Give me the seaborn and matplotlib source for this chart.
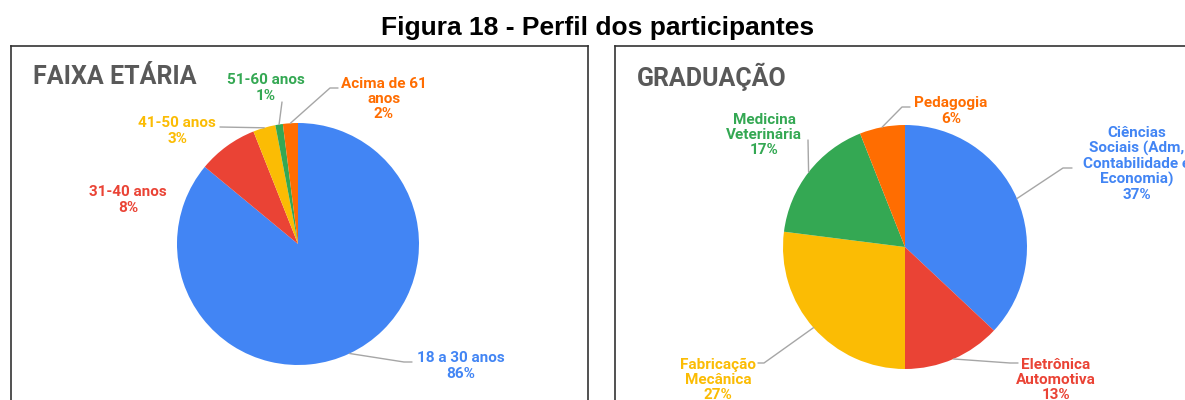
import numpy as np
import seaborn as sns
import matplotlib.pyplot as plt

# Perfil dos participantes
faixa_labels = ['18 a 30 anos', '31-40 anos', '41-50 anos', '51-60 anos', 'Acima de 61\nanos']
faixa_values = [86, 8, 3, 1, 2]

grad_labels = ['Ciências\nSociais (Adm,\nContabilidade e\nEconomia)', 'Eletrônica\nAutomotiva',
               'Fabricação\nMecânica', 'Medicina\nVeterinária', 'Pedagogia']
grad_values = [37, 13, 27, 17, 6]

colors = sns.color_palette(['#4285F4', '#EA4335', '#FBBC04', '#34A853', '#FF6D01'])

sns.set_theme(style='white')
plt.rcParams['font.family'] = ['Roboto', 'DejaVu Sans']

W, H = 1185, 400
fig = plt.figure(figsize=(W / 100, H / 100), dpi=100)

# label layout in pixels: text centre, leader points from label towards the wedge
faixa_layout = [
    ((461, 366), [(412, 362), (404, 362)]),
    ((128, 200), []),
    ((177, 131), [(220, 127)]),
    ((266, 88), [(282, 102)]),
    ((384, 99), [(338, 88), (330, 88)]),
]
grad_layout = [
    ((1137, 164), [(1072, 168), (1063, 168)]),
    ((1056, 380), [(1018, 363), (1010, 363)]),
    ((718, 380), [(758, 363), (764, 363)]),
    ((764, 135), [(808, 140)]),
    ((951, 111), [(910, 107), (902, 107)]),
]


def panel(box, center, R, title, labels, values, layout, spines):
    x0, y0, x1, y1 = box
    cx, cy = center
    ax = fig.add_axes([x0 / W, 1 - y1 / H, (x1 - x0) / W, (y1 - y0) / H])
    wedges, _ = ax.pie(values, colors=colors, startangle=90, counterclock=False,
                       wedgeprops=dict(linewidth=0))
    ax.set_aspect('auto')
    ax.set_xlim((x0 - cx) / R, (x1 - cx) / R)
    ax.set_ylim((cy - y1) / R, (cy - y0) / R)
    ax.set_frame_on(True)
    ax.set_xticks([])
    ax.set_yticks([])
    for side, sp in ax.spines.items():
        sp.set_visible(side in spines)
        sp.set_color('#333333')
        sp.set_linewidth(1.2)

    def to_data(p):
        return (p[0] - cx) / R, (cy - p[1]) / R

    for w, lab, v, (tpos, path), col in zip(wedges, labels, values, layout, colors):
        tx, ty = to_data(tpos)
        ax.text(tx, ty, f'{lab}\n{v}%', ha='center', va='center', color=col,
                fontsize=11, fontweight='bold', linespacing=1.1)
        if path:
            mid = np.deg2rad((w.theta1 + w.theta2) / 2)
            pts = [to_data(p) for p in path] + [(np.cos(mid), np.sin(mid))]
            ax.plot([p[0] for p in pts], [p[1] for p in pts], color='#a6a6a6', lw=1)

    fig.text((x0 + 22) / W, 1 - 77 / H, title, ha='left', va='center',
             fontsize=18, fontweight='bold', color='#595959')
    return ax


panel((11, 46, 588, 400), (298, 244), 121, 'FAIXA ETÁRIA',
      faixa_labels, faixa_values, faixa_layout, ['top', 'left', 'right'])
panel((615, 46, 1185, 400), (905, 247), 122, 'GRADUAÇÃO',
      grad_labels, grad_values, grad_layout, ['top', 'left'])

fig.text(598 / W, 1 - 28 / H, 'Figura 18 - Perfil dos participantes', ha='center', va='center',
         fontsize=19, fontweight='bold', color='black', family=['Liberation Sans', 'DejaVu Sans'])

plt.savefig('out.png', dpi=100)
